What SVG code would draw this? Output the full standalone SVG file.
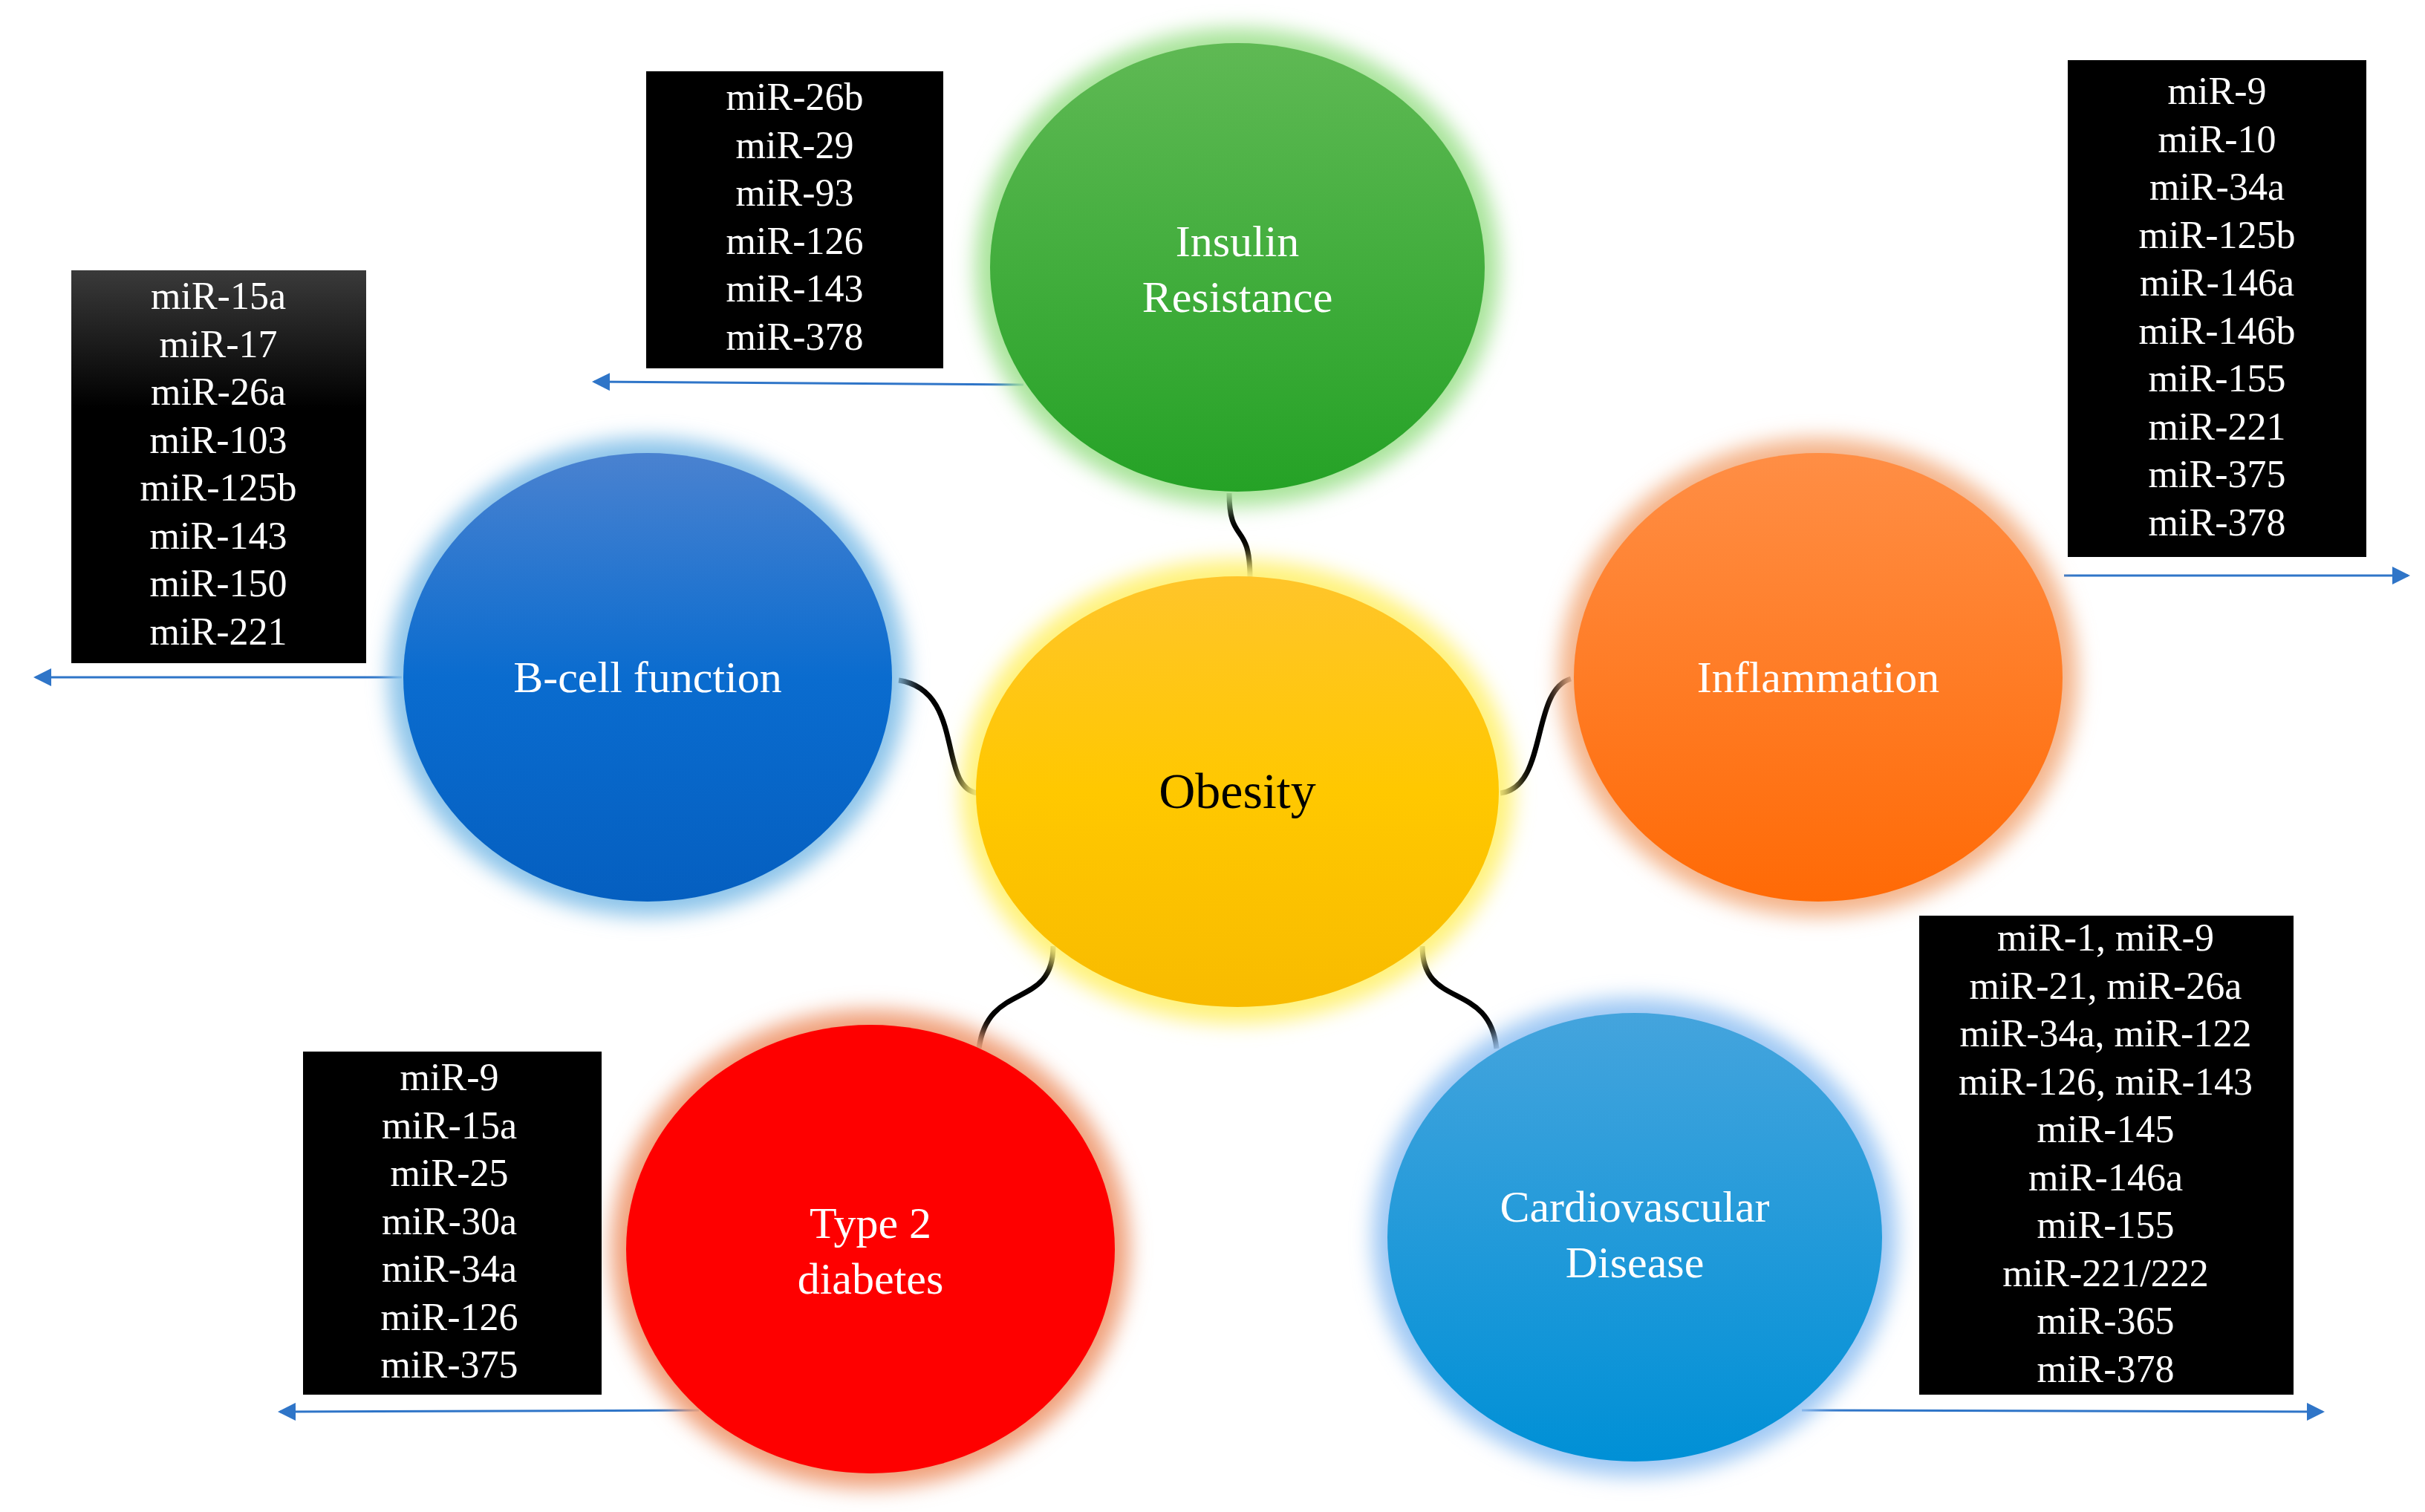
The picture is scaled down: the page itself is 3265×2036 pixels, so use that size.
<svg xmlns="http://www.w3.org/2000/svg" width="3265" height="2036" viewBox="0 0 3265 2036">
<style>
.lbl{font-family:"Liberation Serif","DejaVu Serif",serif;font-size:60px;fill:#fff;text-anchor:middle}
.mir{font-family:"Liberation Serif","DejaVu Serif",serif;font-size:52px;fill:#fff;text-anchor:middle}
.con{fill:none;stroke:#000;stroke-width:7}
.arr{fill:none;stroke:#2f75c8;stroke-width:3;marker-end:url(#ah)}
</style>
<defs>
<filter id="blur" x="-20%" y="-20%" width="140%" height="140%"><feGaussianBlur stdDeviation="14"/></filter>
<marker id="ah" markerWidth="8" markerHeight="8" refX="7" refY="4" orient="auto" markerUnits="strokeWidth"><path d="M0,0 L8,4 L0,8 Z" fill="#2f75c8"/></marker>
<linearGradient id="gG" x1="0" y1="0" x2="0" y2="1"><stop offset="0" stop-color="#5fb954"/><stop offset="1" stop-color="#25a226"/></linearGradient>
<linearGradient id="gB" x1="0" y1="0" x2="0" y2="1"><stop offset="0" stop-color="#4a82d0"/><stop offset="0.5" stop-color="#0a6ccf"/><stop offset="1" stop-color="#055fc0"/></linearGradient>
<linearGradient id="gO" x1="0" y1="0" x2="0" y2="1"><stop offset="0" stop-color="#ff8e45"/><stop offset="1" stop-color="#ff6a06"/></linearGradient>
<linearGradient id="gY" x1="0" y1="0" x2="0" y2="1"><stop offset="0" stop-color="#ffc52a"/><stop offset="0.5" stop-color="#ffc800"/><stop offset="1" stop-color="#f8bb00"/></linearGradient>
<linearGradient id="gC" x1="0" y1="0" x2="0" y2="1"><stop offset="0" stop-color="#44a4dd"/><stop offset="1" stop-color="#0090d6"/></linearGradient>
<linearGradient id="gK" x1="0" y1="0" x2="0" y2="1"><stop offset="0" stop-color="#3a3a3a"/><stop offset="0.35" stop-color="#000"/><stop offset="1" stop-color="#000"/></linearGradient>
</defs>
<rect width="3265" height="2036" fill="#fff"/>
<g id="connectors">
<path class="con" d="M1655,664 C1655,735 1683,700 1683,778"/>
<path class="con" d="M1210,916 C1300,930 1262,1060 1316,1068"/>
<path class="con" d="M2115,914 C2060,930 2085,1060 2020,1068"/>
<path class="con" d="M1418,1274 C1418,1360 1330,1320 1318,1412"/>
<path class="con" d="M1915,1274 C1915,1360 2005,1320 2015,1412"/>
<path class="arr" d="M1378,518 L800,514"/>
<path class="arr" d="M541,912 L48,912"/>
<path class="arr" d="M2779,775 L3242,775"/>
<path class="arr" d="M941,1899 L377,1901"/>
<path class="arr" d="M2426,1899 L3127,1901"/>
</g>
<g id="obesity">
<ellipse cx="1666" cy="1066" rx="372" ry="312" fill="#fff27a" filter="url(#blur)"/>
<ellipse cx="1666" cy="1066" rx="352" ry="290" fill="url(#gY)"/>
<text x="1666" y="1088" class="lbl" style="fill:#000;font-size:68px">Obesity</text>
</g>
<g id="insulin">
<ellipse cx="1666" cy="360" rx="353" ry="322" fill="#a8e49a" filter="url(#blur)"/>
<ellipse cx="1666" cy="360" rx="333" ry="302" fill="url(#gG)"/>
<text x="1666" y="345" class="lbl">Insulin</text>
<text x="1666" y="420" class="lbl">Resistance</text>
</g>
<g id="bcell">
<ellipse cx="872" cy="912" rx="349" ry="322" fill="#8cc4ea" filter="url(#blur)"/>
<ellipse cx="872" cy="912" rx="329" ry="302" fill="url(#gB)"/>
<text x="872" y="932" class="lbl">B-cell function</text>
</g>
<g id="inflammation">
<ellipse cx="2448" cy="912" rx="349" ry="322" fill="#f4b48a" filter="url(#blur)"/>
<ellipse cx="2448" cy="912" rx="329" ry="302" fill="url(#gO)"/>
<text x="2448" y="932" class="lbl">Inflammation</text>
</g>
<g id="type2">
<ellipse cx="1172" cy="1682" rx="349" ry="322" fill="#f0a07a" filter="url(#blur)"/>
<ellipse cx="1172" cy="1682" rx="329" ry="302" fill="#fe0000"/>
<text x="1172" y="1667" class="lbl">Type 2</text>
<text x="1172" y="1742" class="lbl">diabetes</text>
</g>
<g id="cardio">
<ellipse cx="2201" cy="1666" rx="353" ry="322" fill="#9ec8f4" filter="url(#blur)"/>
<ellipse cx="2201" cy="1666" rx="333" ry="302" fill="url(#gC)"/>
<text x="2201" y="1645" class="lbl">Cardiovascular</text>
<text x="2201" y="1720" class="lbl">Disease</text>
</g>
<g id="box-insulin">
<rect x="870" y="96" width="400" height="400" fill="#000"/>
<text class="mir" x="1070"><tspan x="1070" y="148">miR-26b</tspan><tspan x="1070" y="213">miR-29</tspan><tspan x="1070" y="277">miR-93</tspan><tspan x="1070" y="342">miR-126</tspan><tspan x="1070" y="406">miR-143</tspan><tspan x="1070" y="471">miR-378</tspan></text>
</g>
<g id="box-bcell">
<rect x="96" y="364" width="397" height="529" fill="url(#gK)"/>
<text class="mir"><tspan x="294" y="416">miR-15a</tspan><tspan x="294" y="481">miR-17</tspan><tspan x="294" y="545">miR-26a</tspan><tspan x="294" y="610">miR-103</tspan><tspan x="294" y="674">miR-125b</tspan><tspan x="294" y="739">miR-143</tspan><tspan x="294" y="803">miR-150</tspan><tspan x="294" y="868">miR-221</tspan></text>
</g>
<g id="box-inflammation">
<rect x="2784" y="81" width="402" height="669" fill="#000"/>
<text class="mir"><tspan x="2985" y="140">miR-9</tspan><tspan x="2985" y="205">miR-10</tspan><tspan x="2985" y="269">miR-34a</tspan><tspan x="2985" y="334">miR-125b</tspan><tspan x="2985" y="398">miR-146a</tspan><tspan x="2985" y="463">miR-146b</tspan><tspan x="2985" y="527">miR-155</tspan><tspan x="2985" y="592">miR-221</tspan><tspan x="2985" y="656">miR-375</tspan><tspan x="2985" y="721">miR-378</tspan></text>
</g>
<g id="box-type2">
<rect x="408" y="1416" width="402" height="462" fill="#000"/>
<text class="mir"><tspan x="605" y="1468">miR-9</tspan><tspan x="605" y="1533">miR-15a</tspan><tspan x="605" y="1597">miR-25</tspan><tspan x="605" y="1662">miR-30a</tspan><tspan x="605" y="1726">miR-34a</tspan><tspan x="605" y="1791">miR-126</tspan><tspan x="605" y="1855">miR-375</tspan></text>
</g>
<g id="box-cardio">
<rect x="2584" y="1233" width="504" height="645" fill="#000"/>
<text class="mir"><tspan x="2835" y="1280">miR-1, miR-9</tspan><tspan x="2835" y="1345">miR-21, miR-26a</tspan><tspan x="2835" y="1409">miR-34a, miR-122</tspan><tspan x="2835" y="1474">miR-126, miR-143</tspan><tspan x="2835" y="1538">miR-145</tspan><tspan x="2835" y="1603">miR-146a</tspan><tspan x="2835" y="1667">miR-155</tspan><tspan x="2835" y="1732">miR-221/222</tspan><tspan x="2835" y="1796">miR-365</tspan><tspan x="2835" y="1861">miR-378</tspan></text>
</g>
</svg>
